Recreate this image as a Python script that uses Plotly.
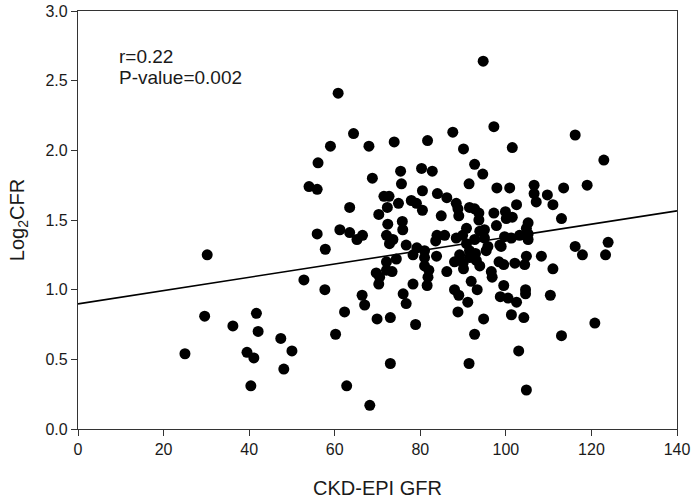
import plotly.graph_objects as go
import numpy as np

# CKD-EPI GFR (x) and Log2CFR (y)
gfr = [25.0, 29.6, 30.2, 36.2, 39.5, 40.4, 41.1, 41.7, 42.1, 47.4, 48.1, 50.0, 52.8, 54.0, 55.9, 56.1,
       55.9, 57.7, 57.8, 59.0, 60.2, 60.8, 61.2,
       62.3, 62.8, 63.5, 63.5, 64.4, 65.2, 66.5, 66.4, 67.0, 68.0, 68.2, 68.8, 69.7, 69.9,
       70.3, 70.3, 70.5, 71.5, 72.7, 72.3, 72.4, 72.1, 73.6, 72.8, 72.1, 74.4, 72.1, 73.4,
       73.0, 73.0, 73.9, 74.9, 75.4, 75.6, 75.8, 75.9, 76.0, 76.7, 76.7, 77.9, 78.3, 78.3,
       78.9, 79.1, 79.2,
       80.3, 80.5, 80.5, 81.0, 81.0, 81.0, 81.6, 81.8, 82.0, 81.7, 82.8, 83.8, 83.9, 83.6,
       84.0, 84.9, 85.7, 86.2, 86.2, 87.6, 88.0, 88.0, 88.4, 88.4, 88.8, 88.8, 89.0, 89.0,
       89.2, 89.9, 90.0, 90.1, 90.1,
       90.8, 90.8, 91.1, 91.4, 91.4, 91.5, 91.5, 91.5, 91.9, 92.7, 92.7, 92.7, 92.7, 92.9,
       93.1, 93.3, 93.7, 93.7, 93.9, 93.9, 94.6, 94.7, 94.8, 95.0, 95.0, 95.4, 95.8, 96.6,
       96.8, 97.2, 97.2, 97.8, 97.9, 98.4, 98.6, 98.7, 98.9, 99.5, 99.5, 99.7, 99.9, 100.1,
       100.5, 100.9,
       101.3, 101.3, 101.5, 101.5, 102.1, 102.5, 102.5, 103.0, 103.2, 104.2, 104.4, 104.6,
       104.6, 104.8, 104.8, 104.8, 105.2, 105.2, 105.2, 106.6, 106.6, 107.1, 108.3, 109.7,
       110.4, 111.0, 111.0, 113.0, 113.0, 113.5, 116.2, 116.2, 117.9, 119.0, 120.8, 122.9,
       123.9, 123.3]

log2cfr = [0.54, 0.81, 1.25, 0.74, 0.55, 0.31, 0.51, 0.83, 0.70, 0.65, 0.43, 0.56, 1.07, 1.74, 1.72, 1.91,
           1.40, 1.00, 1.29, 2.03, 0.68, 2.41, 1.43,
           0.84, 0.31, 1.59, 1.41, 2.12, 1.36, 1.39, 0.96, 0.89, 2.03, 0.17, 1.80, 1.12, 0.79,
           1.54, 1.04, 1.09, 1.67, 1.67, 1.59, 1.47, 1.39, 1.36, 1.33, 1.20, 1.22, 1.14, 1.13,
           0.80, 0.47, 2.06, 1.62, 1.85, 1.76, 1.49, 1.43, 0.97, 0.90, 1.32, 1.64, 1.04, 1.25,
           0.75, 1.62, 1.30,
           1.87, 1.71, 1.57, 1.28, 1.23, 1.17, 1.03, 1.09, 1.14, 2.07, 1.85, 1.24, 1.39, 1.35,
           1.69, 1.53, 1.39, 1.66, 1.13, 2.13, 1.00, 1.20, 1.62, 1.37, 1.58, 0.84, 1.53, 0.96,
           1.25, 1.39, 1.19, 2.01, 1.15,
           1.44, 1.33, 0.91, 1.76, 0.47, 1.59, 1.28, 1.23, 1.06, 1.90, 1.58, 1.36, 0.68, 1.26,
           1.21, 1.00, 1.55, 1.50, 1.42, 1.17, 1.83, 2.64, 0.79, 1.43, 1.37, 1.28, 1.31, 1.13,
           1.09, 1.55, 2.17, 1.46, 1.73, 1.20, 1.32, 0.95, 1.31, 1.18, 1.03, 1.38, 1.56, 1.51,
           0.94, 1.73,
           1.37, 0.82, 2.02, 1.52, 1.19, 0.91, 1.61, 0.56, 1.39, 0.80, 1.18, 1.00,
           0.97, 0.28, 1.24, 1.44, 1.48, 1.40, 1.36, 1.75, 1.69, 1.63, 1.24, 1.68,
           0.96, 1.61, 1.15, 1.51, 0.67, 1.73, 2.11, 1.31, 1.25, 1.75, 0.76, 1.93,
           1.34, 1.25]

# regression line parameters
fit_intercept = 0.898
fit_slope = 0.00477
x_range = [0, 140]
y_range = [0, 3.0]

x_ticks = [0, 20, 40, 60, 80, 100, 120, 140]
y_ticks = [0.0, 0.5, 1.0, 1.5, 2.0, 2.5, 3.0]

x_title = "CKD-EPI GFR"
y_title = "Log<sub>2</sub>CFR"
r_text = "r=0.22"
p_text = "P-value=0.002"

FONT = "Liberation Sans, Arial, sans-serif"
INK = "#1a1a1a"

line_x = np.array(x_range, dtype=float)
line_y = fit_intercept + fit_slope * line_x

fig = go.Figure()
fig.add_trace(go.Scatter(
    x=line_x, y=line_y, mode="lines",
    line=dict(color="black", width=1.6),
    showlegend=False, hoverinfo="skip"))
fig.add_trace(go.Scatter(
    x=gfr, y=log2cfr, mode="markers",
    marker=dict(color="black", size=11, line=dict(width=0)),
    showlegend=False))

axis_common = dict(
    showgrid=False, zeroline=False, showline=True, linecolor="#333", linewidth=1.2,
    mirror=True, ticks="outside", ticklen=6, tickwidth=1.2, tickcolor="#333",
    tickfont=dict(family=FONT, size=16, color=INK), automargin=False,
)

ann_common = dict(xref="x", yref="y", xanchor="left", yanchor="middle",
                  align="left", showarrow=False,
                  font=dict(family=FONT, size=19, color=INK))

fig.update_layout(
    width=692, height=500,
    margin=dict(l=78, r=15, t=11, b=71),
    paper_bgcolor="white", plot_bgcolor="white",
    font=dict(family=FONT, color=INK),
    xaxis=dict(range=x_range, tickvals=x_ticks,
               title=dict(text=x_title, font=dict(family=FONT, size=20, color=INK), standoff=23),
               **axis_common),
    yaxis=dict(range=y_range, tickvals=y_ticks, tickformat=".1f",
               title=dict(text=y_title, font=dict(family=FONT, size=20, color=INK), standoff=15),
               **axis_common),
    annotations=[dict(text=r_text, x=9.2, y=2.675, **ann_common),
                 dict(text=p_text, x=9.2, y=2.525, **ann_common)],
)

fig.write_html("out.html",
               config={"displayModeBar": False},
               post_script="document.body.style.margin='0';document.body.style.padding='0';")
